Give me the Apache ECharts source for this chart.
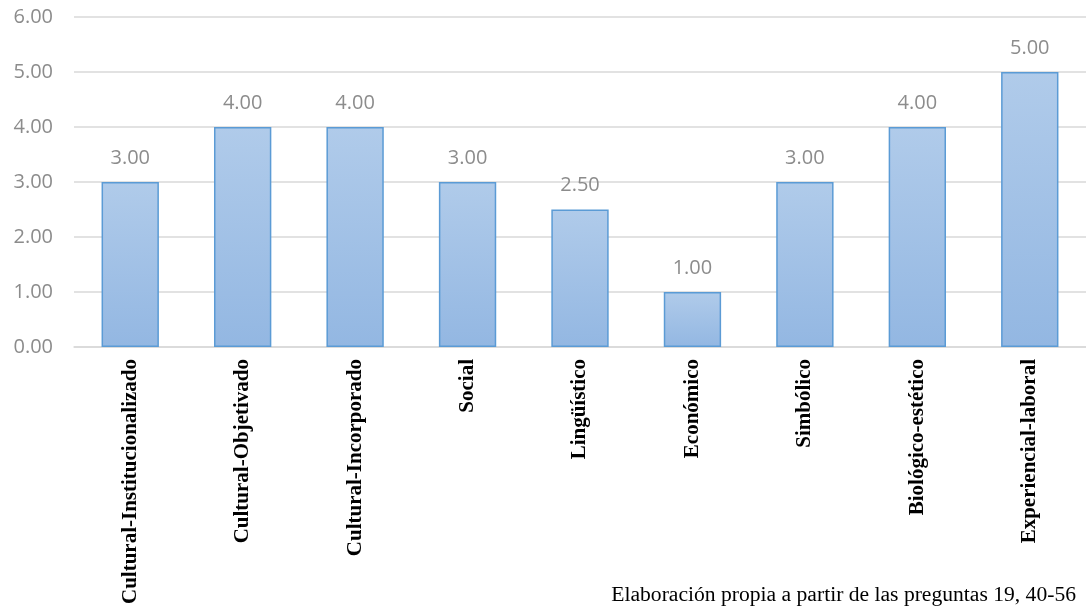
<!DOCTYPE html>
<html>
<head>
<meta charset="utf-8">
<script src="https://cdn.jsdelivr.net/npm/echarts@6/dist/echarts.min.js"></script>
<style>
  html, body { margin: 0; padding: 0; background: #ffffff; }
  #chart { width: 1086px; height: 614px; }
</style>
</head>
<body>
<div id="chart"></div>
<script>
// Capital types and their scores
const categories = [
  'Cultural-Institucionalizado',
  'Cultural-Objetivado',
  'Cultural-Incorporado',
  'Social',
  'Lingüístico',
  'Económico',
  'Simbólico',
  'Biológico-estético',
  'Experiencial-laboral'
];
const values = [3.00, 4.00, 4.00, 3.00, 2.50, 1.00, 3.00, 4.00, 5.00];
const sourceNote = 'Elaboración propia a partir de las preguntas 19, 40-56';

const chart = echarts.init(document.getElementById('chart'));
chart.setOption({
  animation: false,
  backgroundColor: '#ffffff',
  grid: { left: 74, right: -2, top: 17, bottom: 267, containLabel: false },
  xAxis: {
    type: 'category',
    data: categories,
    axisLine: { show: true, lineStyle: { color: '#d9d9d9', width: 1.5 } },
    axisTick: { show: false },
    axisLabel: {
      rotate: 90,
      margin: 12,
      interval: 0,
      color: '#000000',
      fontFamily: 'Liberation Serif',
      fontWeight: 'bold',
      fontSize: 21
    }
  },
  yAxis: {
    type: 'value',
    min: 0,
    max: 6,
    interval: 1,
    axisLine: { show: false },
    axisTick: { show: false },
    splitLine: { lineStyle: { color: '#d9d9d9', width: 1.5 } },
    axisLabel: {
      margin: 21,
      color: '#8c8c8c',
      fontFamily: 'Open Sans',
      fontSize: 20,
      formatter: v => v.toFixed(2)
    }
  },
  series: [{
    type: 'bar',
    data: values,
    barWidth: '51%',
    itemStyle: {
      color: new echarts.graphic.LinearGradient(0, 0, 0, 1, [
        { offset: 0, color: '#b0cbea' },
        { offset: 1, color: '#93b7e2' }
      ]),
      borderColor: '#5b9bd5',
      borderWidth: 1.5
    },
    label: {
      show: true,
      position: 'top',
      distance: 14,
      color: '#8c8c8c',
      fontFamily: 'Open Sans',
      fontSize: 20,
      formatter: p => p.value.toFixed(2)
    }
  }],
  graphic: [{
    type: 'text',
    right: 10,
    top: 584,
    style: {
      text: sourceNote,
      fill: '#000000',
      font: '21.6px "Liberation Serif"'
    }
  }]
});
</script>
</body>
</html>
